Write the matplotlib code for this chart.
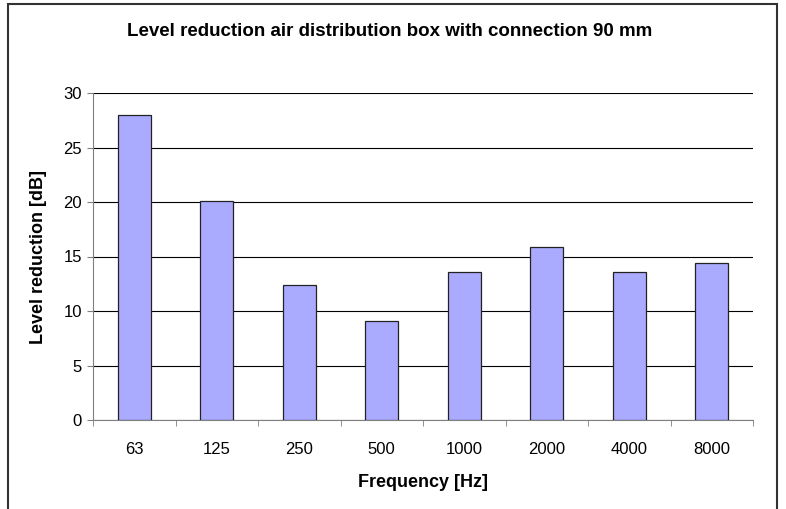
import matplotlib.pyplot as plt
from matplotlib.patches import Rectangle

plt.rcParams['font.family'] = ['Liberation Sans', 'DejaVu Sans']

# Data
frequencies = ['63', '125', '250', '500', '1000', '2000', '4000', '8000']
reduction = [28.0, 20.1, 12.4, 9.1, 13.6, 15.9, 13.6, 14.4]

fig = plt.figure(figsize=(7.86, 5.09), dpi=100)
fig.patch.set_facecolor('white')

# outer chart frame like Excel
frame = Rectangle((8 / 786, -0.05), (777 - 8) / 786, (509 - 4) / 509 + 0.05,
                  transform=fig.transFigure, fill=False,
                  edgecolor='#333333', linewidth=1.5)
fig.patches.append(frame)

ax = fig.add_axes([93 / 786, 89 / 509, 660 / 786, 327 / 509])

x = range(len(frequencies))
ax.bar(x, reduction, width=0.4, color='#AAAAFF', edgecolor='#222222',
       linewidth=0.9, zorder=3)

ax.set_xlim(-0.5, len(frequencies) - 0.5)
ax.set_ylim(0, 30)
ax.set_yticks(range(0, 31, 5))
ax.set_xticks(list(x))
ax.set_xticklabels(frequencies)
ax.set_xticks([i - 0.5 for i in range(len(frequencies) + 1)], minor=True)

ax.grid(axis='y', color='black', linewidth=0.8, zorder=0)
ax.tick_params(axis='x', which='major', length=0, pad=16, labelsize=12)
ax.tick_params(axis='x', which='minor', length=4, color='#808080')
ax.tick_params(axis='y', length=4, color='#808080', labelsize=12, pad=4)

for side in ['top', 'right']:
    ax.spines[side].set_visible(False)
for side in ['left', 'bottom']:
    ax.spines[side].set_color('#808080')

ax.set_xlabel('Frequency [Hz]', fontsize=13, fontweight='bold', labelpad=12)
ax.set_ylabel('Level reduction [dB]', fontsize=13, fontweight='bold', labelpad=12)

fig.text(390 / 786, 1 - 31 / 509,
         'Level reduction air distribution box with connection 90 mm',
         ha='center', va='center', fontsize=13.5, fontweight='bold')

plt.savefig('out.png', dpi=100)
plt.close()
